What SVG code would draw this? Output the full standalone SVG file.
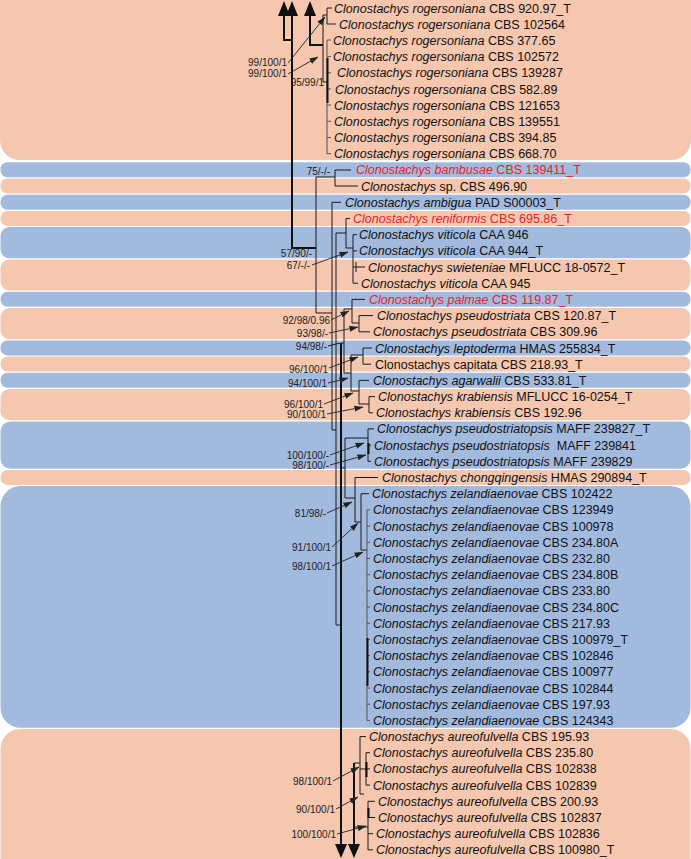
<svg xmlns="http://www.w3.org/2000/svg" width="691" height="859" viewBox="0 0 691 859">
<defs>
<marker id="ah" markerUnits="userSpaceOnUse" markerWidth="9" markerHeight="7" refX="8.5" refY="3.5" orient="auto"><path d="M0,0.5 L9,3.5 L0,6.5 Z" fill="#222"/></marker>
</defs>
<style>
.s{fill:#F4C7AE}.b{fill:#A3BADF}
text{font-family:"Liberation Sans",Arial,sans-serif;font-size:12.5px;fill:#111}
.i{font-style:italic}
.r{fill:#E8242B}
.sv{font-size:10px;text-anchor:end;fill:#222}
.t{fill:none;stroke:#1a1a1a;stroke-width:1}
.k{fill:none;stroke:#111;stroke-width:2}
.g{fill:none;stroke:#555;stroke-width:1}
.a{fill:none;stroke:#222;stroke-width:0.9;marker-end:url(#ah)}
.h{fill:#111}
</style>
<g id="bands">
<path class="s" d="M0,0 H691 V140 A20,20 0 0 1 671,160 H20 A20,20 0 0 1 0,140 Z"/>
<rect class="b" x="0.5" y="162.3" width="690" height="15" rx="7"/>
<rect class="s" x="0.5" y="178.5" width="690" height="15" rx="7"/>
<rect class="b" x="0.5" y="194.7" width="690" height="15" rx="7"/>
<rect class="s" x="0.5" y="210.9" width="690" height="15" rx="7"/>
<rect class="b" x="0.5" y="227.1" width="690" height="31.2" rx="9"/>
<rect class="s" x="0.5" y="259.5" width="690" height="31.1" rx="9"/>
<rect class="b" x="0.5" y="291.8" width="690" height="15" rx="7"/>
<rect class="s" x="0.5" y="308" width="690" height="31.2" rx="9"/>
<rect class="b" x="0.5" y="340.4" width="690" height="15" rx="7"/>
<rect class="s" x="0.5" y="356.6" width="690" height="15" rx="7"/>
<rect class="b" x="0.5" y="372.8" width="690" height="15" rx="7"/>
<rect class="s" x="0.5" y="389" width="690" height="31.2" rx="9"/>
<rect class="b" x="0.5" y="421.4" width="690" height="47.3" rx="10"/>
<rect class="s" x="0.5" y="469.9" width="690" height="15" rx="7"/>
<rect class="b" x="0.5" y="486.1" width="690" height="241.7" rx="20"/>
<path class="s" d="M0.5,749 A20,20 0 0 1 20.5,729 H670.5 A20,20 0 0 1 690.5,749 V859 H0.5 Z"/>
</g>
<g id="connectors">
<path class="k" d="M284,12 V40 H292 M292,12 V248 H316 M310,12 V45 H323"/>
<polygon class="h" points="278,16 290,16 284,1"/>
<polygon class="h" points="286,16 298,16 292,1"/>
<polygon class="h" points="304,16 316,16 310,1"/>
<path class="t" d="M323,15 V82 M323,15 H327 M327,8 V24 M327,8 H332 M327,24 H336 M323,82 H327"/>
<path class="g" d="M327,40 V154 M327,40 H331 M327,56.6 H331 M327,72.8 H331 M327,89 H331 M327,105 H331 M327,121.3 H331 M327,137.5 H331 M327,153.7 H331"/>
<path class="k" d="M327.5,58 V103"/>
<path class="t" d="M316,177 V313 M316,177 H335 M335,170 V186 M335,170 H351 M335,186 H358"/>
<path class="t" d="M316,313 H332 M332,202.3 V430 M332,202.3 H341 M332,430 H336"/>
<path class="t" d="M336,233 V625 H341 M336,233 H346 M346,218.5 V248 M346,218.5 H350 M346,248 H353 M353,234.7 V283.2 M353,234.7 H357 M353,250.9 H357 M353,267 H356 M356,262 V272 M356,267 H365 M353,283.2 H358"/>
<path class="t" d="M344,309 V373 M341,343 H344 M344,309 H352 M352,299.4 V323 M352,299.4 H365 M352,323 H359 M359,315.6 V331.8 M359,315.6 H373 M359,331.8 H370"/>
<path class="t" d="M344,373 H351 M351,355 V391 M351,355 H363 M363,348 V364.2 M363,348 H372 M363,364.2 H371 M351,391 H359 M359,380.4 V404 M359,380.4 H369 M359,404 H369 M369,396.6 V412.8 M369,396.6 H375 M369,412.8 H373"/>
<path class="t" d="M341,468 H345 M345,438 V498 M345,438 H368 M368,428.9 V461.3 M368,428.9 H374 M368,445.1 H371 M368,461.3 H371"/>
<path class="k" d="M368.5,443 V454"/>
<path class="t" d="M345,498 H355 M355,477.5 V522 M355,477.5 H378 M355,522 H361 M361,493.7 V550 M361,493.7 H369 M361,550 H367"/>
<path class="g" d="M367,509.9 V720.4 M367,509.9 H370 M367,526.1 H370 M367,542.3 H370 M367,558.5 H370 M367,574.7 H370 M367,590.8 H370 M367,607 H370 M367,623.2 H370 M367,639.4 H370 M367,655.6 H370 M367,671.8 H370 M367,688 H370 M367,704.2 H370 M367,720.4 H370"/>
<path class="k" d="M367.5,638 V686"/>
<path class="k" d="M341,343 V846 M354,763 V846"/>
<polygon class="h" points="335,844 347,844 341,858"/>
<polygon class="h" points="348,844 360,844 354,858"/>
<path class="t" d="M354,763 H360 M360,736.6 V794 M360,736.6 H366 M360,769 H366 M366,752.7 V785.1 M366,752.7 H370 M366,768.9 H370 M366,785.1 H370 M360,794 H364 M354,827 H368 M368,801.3 V849.9 M368,801.3 H375 M368,817.5 H375 M368,833.7 H373 M368,849.9 H373"/>
<path class="k" d="M366.5,762 V777 M368.5,808 V818"/>
</g>
<g id="support">
<text class="sv" x="287" y="66">99/100/1</text><path class="a" d="M288,63 L325,17"/>
<text class="sv" x="287" y="77">99/100/1</text><path class="a" d="M288,74 L318,57"/>
<text class="sv" x="324" y="86">95/99/1</text>
<text class="sv" x="330" y="174.5">75/-/-</text>
<text class="sv" x="312" y="257">57/90/-</text>
<text class="sv" x="310" y="269">67/-/-</text><path class="a" d="M312,265 L348,252"/>
<text class="sv" x="330" y="324">92/98/0.96</text><path class="a" d="M331,320 L349,311"/>
<text class="sv" x="328" y="337">93/98/-</text><path class="a" d="M329,333 L358,327"/>
<text class="sv" x="327" y="350">94/98/-</text><path class="t" d="M328,346 L340,343"/>
<text class="sv" x="328" y="373">96/100/1</text><path class="a" d="M329,368 L358,357"/>
<text class="sv" x="327" y="387">94/100/1</text><path class="a" d="M328,383 L348,378"/>
<text class="sv" x="323" y="408">96/100/1</text><path class="a" d="M324,404 L353,393"/>
<text class="sv" x="326" y="418">90/100/1</text><path class="a" d="M327,414 L363,407"/>
<text class="sv" x="329" y="459">100/100/-</text><path class="a" d="M330,455 L364,443"/>
<text class="sv" x="329" y="469">98/100/-</text><path class="a" d="M330,465 L366,455"/>
<text class="sv" x="326" y="517">81/98/-</text><path class="a" d="M327,513 L352,502"/>
<text class="sv" x="331" y="551">91/100/1</text><path class="a" d="M332,547 L358,523"/>
<text class="sv" x="331" y="570">98/100/1</text><path class="a" d="M332,566 L363,552"/>
<text class="sv" x="332" y="785">98/100/1</text><path class="a" d="M333,781 L359,767"/>
<text class="sv" x="335" y="813">90/100/1</text><path class="a" d="M336,809 L358,797"/>
<text class="sv" x="336" y="838">100/100/1</text><path class="a" d="M337,834 L366,826"/>
</g>
<g id="taxa">
<g id="t01"><text x="334" y="12.5"><tspan class="i">Clonostachys rogersoniana</tspan> CBS 920.97_T</text></g>
<g id="t02"><text x="339" y="28.7"><tspan class="i">Clonostachys rogersoniana</tspan> CBS 102564</text></g>
<g id="t03"><text x="333" y="44.9"><tspan class="i">Clonostachys rogersoniana</tspan> CBS 377.65</text></g>
<g id="t04"><text x="333" y="61.1"><tspan class="i">Clonostachys rogersoniana</tspan> CBS 102572</text></g>
<g id="t05"><text x="337" y="77.3"><tspan class="i">Clonostachys rogersoniana</tspan> CBS 139287</text></g>
<g id="t06"><text x="335" y="93.5"><tspan class="i">Clonostachys rogersoniana</tspan> CBS 582.89</text></g>
<g id="t07"><text x="334" y="109.6"><tspan class="i">Clonostachys rogersoniana</tspan> CBS 121653</text></g>
<g id="t08"><text x="334" y="125.8"><tspan class="i">Clonostachys rogersoniana</tspan> CBS 139551</text></g>
<g id="t09"><text x="334" y="142"><tspan class="i">Clonostachys rogersoniana</tspan> CBS 394.85</text></g>
<g id="t10"><text x="334" y="158.2"><tspan class="i">Clonostachys rogersoniana</tspan> CBS 668.70</text></g>
<g id="t11"><text class="r" x="356" y="174.4"><tspan class="i">Clonostachys bambusae</tspan> CBS 139411_T</text></g>
<g id="t12"><text x="361" y="190.6"><tspan class="i">Clonostachys</tspan> sp. CBS 496.90</text></g>
<g id="t13"><text x="345" y="206.8"><tspan class="i">Clonostachys ambigua</tspan> PAD S00003_T</text></g>
<g id="t14"><text class="r" x="353" y="223"><tspan class="i">Clonostachys reniformis</tspan> CBS 695.86_T</text></g>
<g id="t15"><text x="359" y="239.2"><tspan class="i">Clonostachys viticola</tspan> CAA 946</text></g>
<g id="t16"><text x="359" y="255.4"><tspan class="i">Clonostachys viticola</tspan> CAA 944_T</text></g>
<g id="t17"><text x="368" y="271.5"><tspan class="i">Clonostachys swieteniae</tspan> MFLUCC 18-0572_T</text></g>
<g id="t18"><text x="361" y="287.7"><tspan class="i">Clonostachys viticola</tspan> CAA 945</text></g>
<g id="t19"><text class="r" x="369" y="303.9"><tspan class="i">Clonostachys palmae</tspan> CBS 119.87_T</text></g>
<g id="t20"><text x="377" y="320.1"><tspan class="i">Clonostachys pseudostriata</tspan> CBS 120.87_T</text></g>
<g id="t21"><text x="373" y="336.3"><tspan class="i">Clonostachys pseudostriata</tspan> CBS 309.96</text></g>
<g id="t22"><text x="375" y="352.5"><tspan class="i">Clonostachys leptoderma</tspan> HMAS 255834_T</text></g>
<g id="t23"><text x="375" y="368.7">Clonostachys capitata CBS 218.93_T</text></g>
<g id="t24"><text x="373" y="384.9"><tspan class="i">Clonostachys agarwalii</tspan> CBS 533.81_T</text></g>
<g id="t25"><text x="378" y="401.1"><tspan class="i">Clonostachys krabiensis</tspan> MFLUCC 16-0254_T</text></g>
<g id="t26"><text x="376" y="417.3"><tspan class="i">Clonostachys krabiensis</tspan> CBS 192.96</text></g>
<g id="t27"><text x="377" y="433.4"><tspan class="i">Clonostachys pseudostriatopsis</tspan> MAFF 239827_T</text></g>
<g id="t28"><text x="374" y="449.6"><tspan class="i">Clonostachys pseudostriatopsis</tspan><tspan dx="3.5"> MAFF 239841</tspan></text></g>
<g id="t29"><text x="374" y="465.8"><tspan class="i">Clonostachys pseudostriatopsis</tspan> MAFF 239829</text></g>
<g id="t30"><text x="382" y="482"><tspan class="i">Clonostachys chongqingensis</tspan> HMAS 290894_T</text></g>
<g id="t31"><text x="372" y="498.2"><tspan class="i">Clonostachys zelandiaenovae</tspan> CBS 102422</text></g>
<g id="t32"><text x="373" y="514.4"><tspan class="i">Clonostachys zelandiaenovae</tspan> CBS 123949</text></g>
<g id="t33"><text x="373" y="530.6"><tspan class="i">Clonostachys zelandiaenovae</tspan> CBS 100978</text></g>
<g id="t34"><text x="373" y="546.8"><tspan class="i">Clonostachys zelandiaenovae</tspan> CBS 234.80A</text></g>
<g id="t35"><text x="373" y="563"><tspan class="i">Clonostachys zelandiaenovae</tspan> CBS 232.80</text></g>
<g id="t36"><text x="373" y="579.2"><tspan class="i">Clonostachys zelandiaenovae</tspan> CBS 234.80B</text></g>
<g id="t37"><text x="373" y="595.3"><tspan class="i">Clonostachys zelandiaenovae</tspan> CBS 233.80</text></g>
<g id="t38"><text x="373" y="611.5"><tspan class="i">Clonostachys zelandiaenovae</tspan> CBS 234.80C</text></g>
<g id="t39"><text x="373" y="627.7"><tspan class="i">Clonostachys zelandiaenovae</tspan> CBS 217.93</text></g>
<g id="t40"><text x="373" y="643.9"><tspan class="i">Clonostachys zelandiaenovae</tspan> CBS 100979_T</text></g>
<g id="t41"><text x="373" y="660.1"><tspan class="i">Clonostachys zelandiaenovae</tspan> CBS 102846</text></g>
<g id="t42"><text x="373" y="676.3"><tspan class="i">Clonostachys zelandiaenovae</tspan> CBS 100977</text></g>
<g id="t43"><text x="373" y="692.5"><tspan class="i">Clonostachys zelandiaenovae</tspan> CBS 102844</text></g>
<g id="t44"><text x="373" y="708.7"><tspan class="i">Clonostachys zelandiaenovae</tspan> CBS 197.93</text></g>
<g id="t45"><text x="373" y="724.9"><tspan class="i">Clonostachys zelandiaenovae</tspan> CBS 124343</text></g>
<g id="t46"><text x="369" y="741.1"><tspan class="i">Clonostachys aureofulvella</tspan> CBS 195.93</text></g>
<g id="t47"><text x="373" y="757.2"><tspan class="i">Clonostachys aureofulvella</tspan> CBS 235.80</text></g>
<g id="t48"><text x="373" y="773.4"><tspan class="i">Clonostachys aureofulvella</tspan> CBS 102838</text></g>
<g id="t49"><text x="373" y="789.6"><tspan class="i">Clonostachys aureofulvella</tspan> CBS 102839</text></g>
<g id="t50"><text x="378" y="805.8"><tspan class="i">Clonostachys aureofulvella</tspan> CBS 200.93</text></g>
<g id="t51"><text x="378" y="822"><tspan class="i">Clonostachys aureofulvella</tspan> CBS 102837</text></g>
<g id="t52"><text x="376" y="838.2"><tspan class="i">Clonostachys aureofulvella</tspan> CBS 102836</text></g>
<g id="t53"><text x="376" y="854.4"><tspan class="i">Clonostachys aureofulvella</tspan> CBS 100980_T</text></g>
</g>
</svg>
